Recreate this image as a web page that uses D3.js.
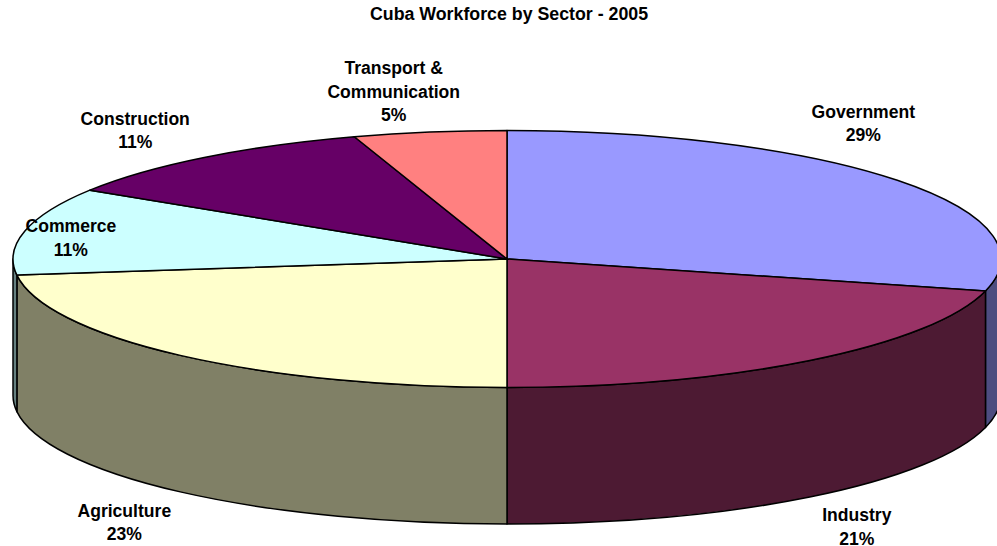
<!DOCTYPE html>
<html>
<head>
<meta charset="utf-8">
<title>Cuba Workforce by Sector - 2005</title>
<script src="https://cdn.jsdelivr.net/npm/d3@7/dist/d3.min.js"></script>
<style>
  html, body { margin: 0; padding: 0; background: #fff; overflow: hidden; }
  svg { display: block; }
  text { font-family: "Liberation Sans", Arial, sans-serif; font-weight: bold; fill: #000; }
</style>
</head>
<body>
<svg id="chart" width="997" height="546"></svg>
<script>
const sectors = ["Government", "Industry", "Agriculture", "Commerce", "Construction", "Transport &\nCommunication"];
const shares = [29, 21, 23, 11, 11, 5];
const topColors = ["#9999FF", "#993366", "#FFFFCC", "#CCFFFF", "#660066", "#FF8080"];
const wallColors = ["#4D4D80", "#4D1A33", "#808066", "#668080", "#330033", "#804040"];
const chartTitle = "Cuba Workforce by Sector - 2005";

// Label nudges from the rim point at each slice's middle angle.
const labelNudges = [[-34, -39], [47, 184], [-56, 185], [46, 25], [-69, -9], [-36, -11]];

const width = 997, height = 546;
const cx = 507, cy = 259, rx = 494, ry = 128.5, depth = 136.5;
const lineGap = 23.5;

const svg = d3.select("#chart");
const x = d3.scaleLinear().domain([-1, 1]).range([cx - rx, cx + rx]);
const y = d3.scaleLinear().domain([-1, 1]).range([cy - ry, cy + ry]);
const rimX = a => x(Math.sin(a));
const rimY = a => y(-Math.cos(a));

const slices = d3.pie().sort(null).value(d => d)(shares);
const arcTo = (a, yOff, sweep) => {
  const large = Math.abs(a[1] - a[0]) > Math.PI ? 1 : 0;
  return `A${rx},${ry} 0 ${large} ${sweep} ${rimX(a[1])},${rimY(a[1]) + yOff}`;
};

// The outer wall is only visible on the near half of the ellipse.
const nearStart = Math.PI / 2, nearEnd = 3 * Math.PI / 2;
const wallPath = d => {
  const a0 = Math.max(d.startAngle, nearStart), a1 = Math.min(d.endAngle, nearEnd);
  if (a1 <= a0) return null;
  return `M${rimX(a0)},${rimY(a0)}` + arcTo([a0, a1], 0, 1) +
    `L${rimX(a1)},${rimY(a1) + depth}` + arcTo([a1, a0], depth, 0) + "Z";
};
const topPath = d =>
  `M${cx},${cy}L${rimX(d.startAngle)},${rimY(d.startAngle)}` +
  arcTo([d.startAngle, d.endAngle], 0, 1) + "Z";

const outline = sel => sel.attr("stroke", "#000").attr("stroke-width", 1.5).attr("stroke-linejoin", "round");

svg.append("g").selectAll("path")
  .data(slices.filter(wallPath))
  .join("path")
  .attr("d", wallPath)
  .attr("fill", d => wallColors[d.index])
  .call(outline);

svg.append("g").selectAll("path")
  .data(slices)
  .join("path")
  .attr("d", topPath)
  .attr("fill", d => topColors[d.index])
  .call(outline);

svg.append("text")
  .attr("x", 509).attr("y", 20)
  .attr("text-anchor", "middle")
  .attr("font-size", 13.3 * 278 / 208)
  .text(chartTitle);

const labels = svg.append("g").attr("font-size", 14.7 * 104 / 87).attr("text-anchor", "middle")
  .selectAll("text")
  .data(slices)
  .join("text")
  .attr("transform", d => {
    const mid = (d.startAngle + d.endAngle) / 2;
    const [dx, dy] = labelNudges[d.index];
    return `translate(${rimX(mid) + dx},${rimY(mid) + dy})`;
  });

labels.each(function (d) {
  const lines = sectors[d.index].split("\n").concat(`${d.value}%`);
  d3.select(this).selectAll("tspan")
    .data(lines)
    .join("tspan")
    .attr("x", 0)
    .attr("y", (_, i) => (i - lines.length + 1) * lineGap)
    .text(t => t);
});
</script>
</body>
</html>
